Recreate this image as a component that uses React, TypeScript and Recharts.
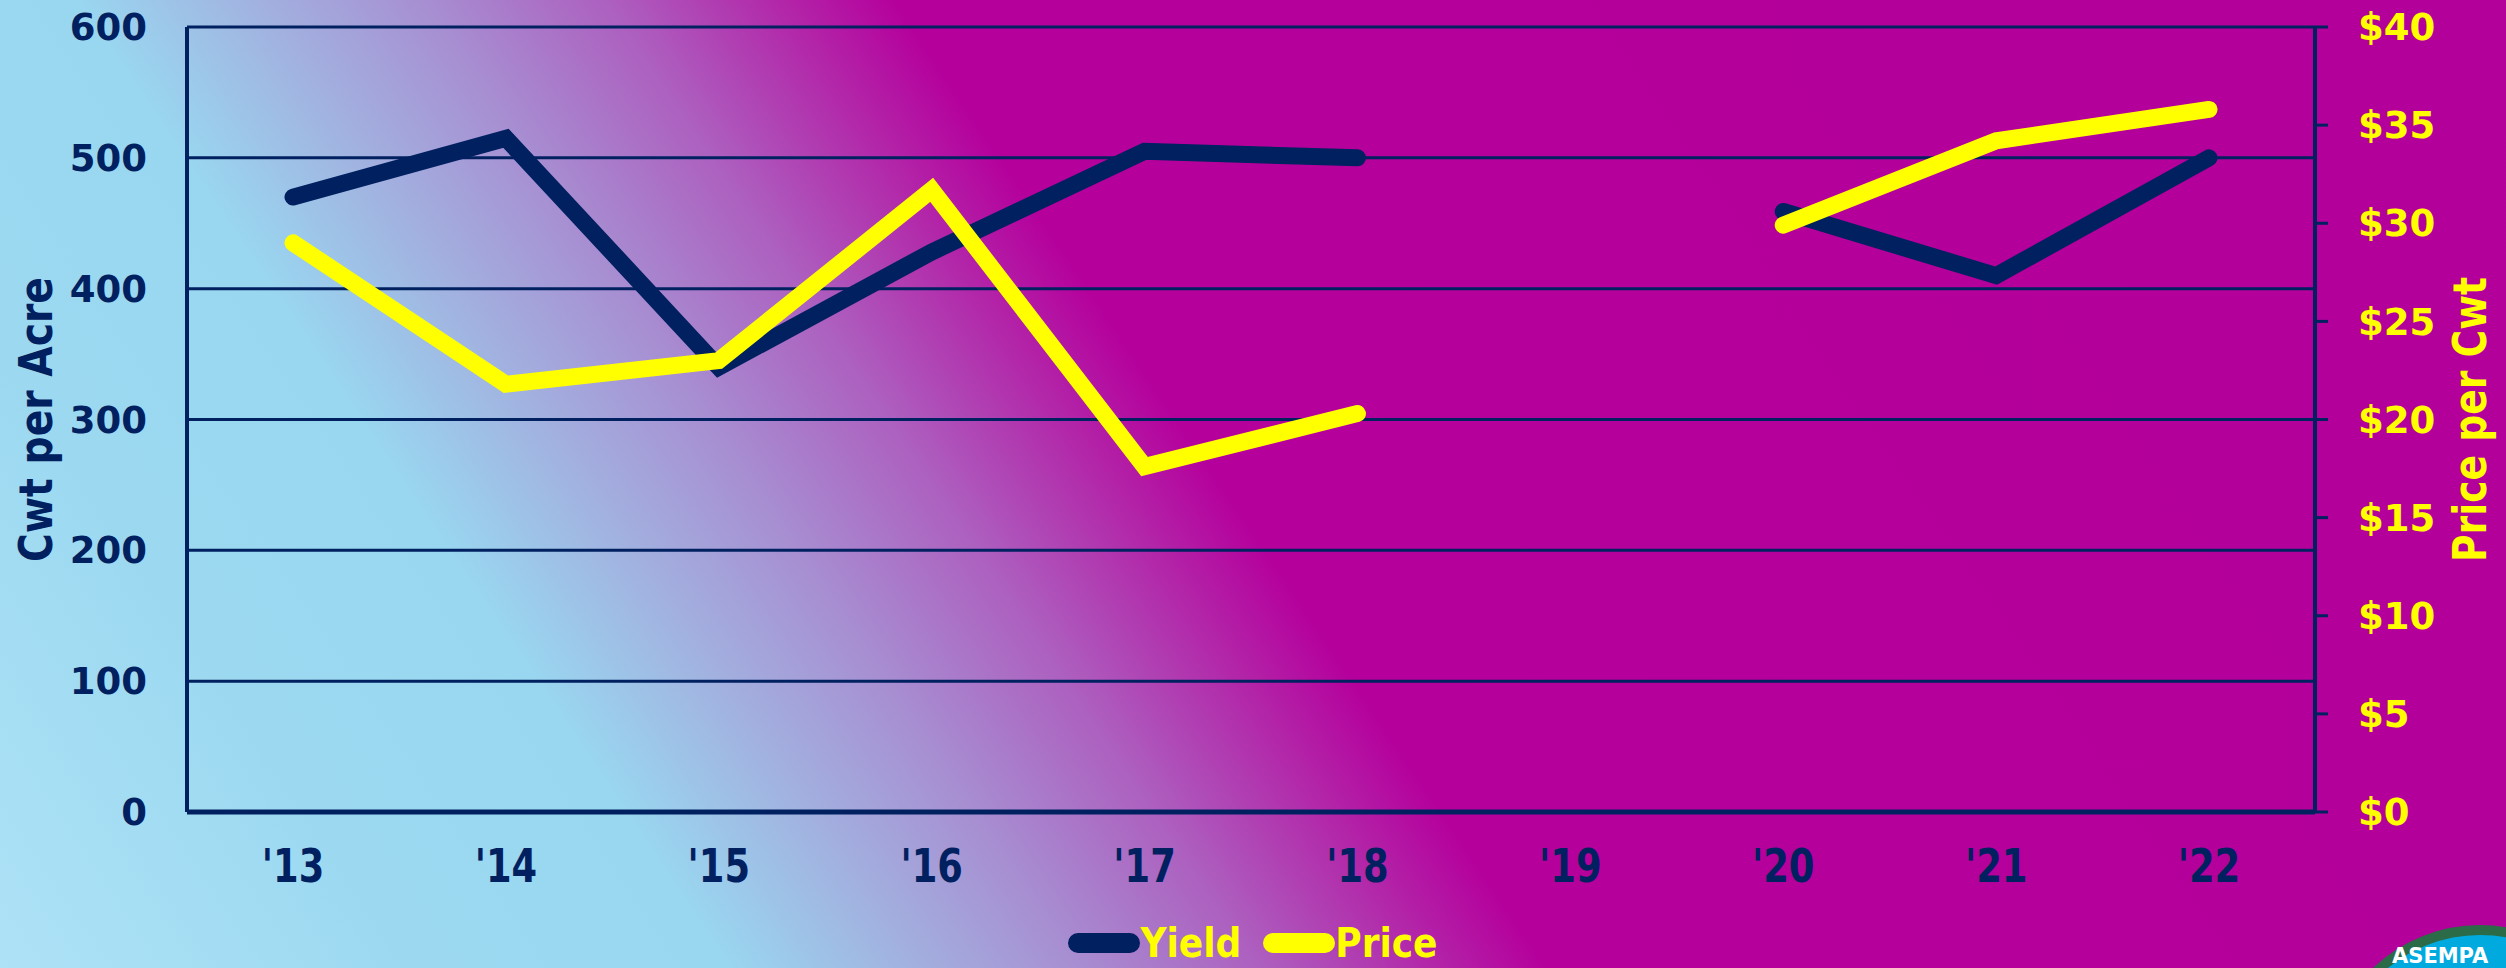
import React from "react"
import {
  LineChart,
  Line,
  XAxis,
  YAxis,
  CartesianGrid,
  Legend,
} from "recharts"

const years = ["'13", "'14", "'15", "'16", "'17", "'18", "'19", "'20", "'21", "'22"]
const yieldCwt = [470, 515, 340, 428, 505, 500, null, 459, 410, 500]
const pricePerCwt = [29.0, 21.8, 23.0, 31.7, 17.6, 20.3, null, 29.9, 34.2, 35.8]
const yieldTicks = [0, 100, 200, 300, 400, 500, 600]
const priceTicks = [0, 5, 10, 15, 20, 25, 30, 35, 40]

const NAVY = "#002060"
const YELLOW = "#ffff00"
const CONDENSED = "'DejaVu Sans Condensed', 'DejaVu Sans', sans-serif"
const WIDE = "'DejaVu Sans', Verdana, sans-serif"

const data = years.map((year, i) => ({
  year,
  yield: yieldCwt[i],
  price: pricePerCwt[i],
}))

const legendItems = [
  { name: "Yield", color: NAVY },
  { name: "Price", color: YELLOW },
]

function renderLegend() {
  return (
    <div
      style={{
        display: "flex",
        justifyContent: "center",
        alignItems: "center",
        gap: 22,
        height: 44,
      }}
    >
      {legendItems.map((item) => (
        <div key={item.name} style={{ display: "flex", alignItems: "center" }}>
          <div style={{ width: 72, height: 20, borderRadius: 10, background: item.color }} />
          <span
            style={{
              color: YELLOW,
              fontFamily: CONDENSED,
              fontWeight: "bold",
              fontSize: 40,
              lineHeight: "44px",
            }}
          >
            {item.name}
          </span>
        </div>
      ))}
    </div>
  )
}

// year labels: the original face is a narrow one, so squeeze DejaVu horizontally
function YearTick({ x, y, payload }: any) {
  return (
    <text
      x={x}
      y={y}
      dy="0.71em"
      textAnchor="middle"
      fill={NAVY}
      fontFamily={WIDE}
      fontWeight="bold"
      fontSize={46}
      transform={`translate(${x} 0) scale(0.8 1) translate(${-x} 0)`}
    >
      {payload.value}
    </text>
  )
}

function axisTitle(text: string, x: number, color: string) {
  return ({ viewBox }: any) => {
    const cy = viewBox.y + viewBox.height / 2
    return (
      <text
        x={x}
        y={cy}
        transform={`rotate(-90, ${x}, ${cy})`}
        textAnchor="middle"
        fill={color}
        fontFamily={CONDENSED}
        fontWeight="bold"
        fontSize={46}
        textLength={285}
        lengthAdjust="spacingAndGlyphs"
      >
        {text}
      </text>
    )
  }
}

export default function App() {
  return (
    <div
      style={{
        position: "absolute",
        left: 0,
        top: 0,
        width: 2506,
        height: 968,
        overflow: "hidden",
        background:
          "linear-gradient(56deg, #aee2f6 0%, #9cd9f1 13%, #99d7f0 23%, #a2b0df 29%, #a78fd2 34%, #ad5fbf 40%, #b22aaa 45%, #b5009c 49%, #b4009a 100%)",
      }}
    >
      <LineChart
        width={2506}
        height={968}
        data={data}
        margin={{ top: 27, right: 0, bottom: 3, left: 0 }}
      >
        <CartesianGrid yAxisId="left" vertical={false} stroke={NAVY} strokeWidth={3} />
        <XAxis
          dataKey="year"
          height={109}
          padding={{ left: 106, right: 106 }}
          tickLine={false}
          tickSize={0}
          tickMargin={37}
          axisLine={{ stroke: NAVY, strokeWidth: 5 }}
          tick={<YearTick />}
          interval={0}
        />
        <YAxis
          yAxisId="left"
          width={187}
          domain={[0, 600]}
          ticks={yieldTicks}
          tickLine={false}
          tickSize={0}
          tickMargin={40}
          axisLine={{ stroke: NAVY, strokeWidth: 4 }}
          tick={{ fill: NAVY, fontFamily: WIDE, fontWeight: "bold", fontSize: 37 }}
          label={{ content: axisTitle("Cwt per Acre", 52, NAVY) }}
        />
        <YAxis
          yAxisId="right"
          orientation="right"
          width={191}
          domain={[0, 40]}
          ticks={priceTicks}
          tickFormatter={(v) => `$${v}`}
          tickSize={13}
          tickMargin={30}
          tickLine={{ stroke: NAVY, strokeWidth: 3 }}
          axisLine={{ stroke: NAVY, strokeWidth: 4 }}
          tick={{ fill: YELLOW, fontFamily: WIDE, fontWeight: "bold", fontSize: 37 }}
          label={{ content: axisTitle("Price per Cwt", 2486, YELLOW) }}
        />
        <Legend verticalAlign="bottom" align="center" height={44} content={renderLegend} />
        <Line
          yAxisId="left"
          dataKey="yield"
          name="Yield"
          stroke={NAVY}
          strokeWidth={17}
          strokeLinecap="round"
          strokeLinejoin="miter"
          dot={false}
          activeDot={false}
          connectNulls={false}
          isAnimationActive={false}
        />
        <Line
          yAxisId="right"
          dataKey="price"
          name="Price"
          stroke={YELLOW}
          strokeWidth={17}
          strokeLinecap="round"
          strokeLinejoin="miter"
          dot={false}
          activeDot={false}
          connectNulls={false}
          isAnimationActive={false}
        />
      </LineChart>
      <svg
        width={2506}
        height={968}
        style={{ position: "absolute", left: 0, top: 0, pointerEvents: "none" }}
      >
        <circle cx={2480} cy={1080} r={150} fill="#00aadf" stroke="#2b6b47" strokeWidth={10} />
        <text x={2392} y={963} fill="#ffffff" fontFamily={WIDE} fontWeight="bold" fontSize={21}>
          ASEMPA
        </text>
      </svg>
    </div>
  )
}
